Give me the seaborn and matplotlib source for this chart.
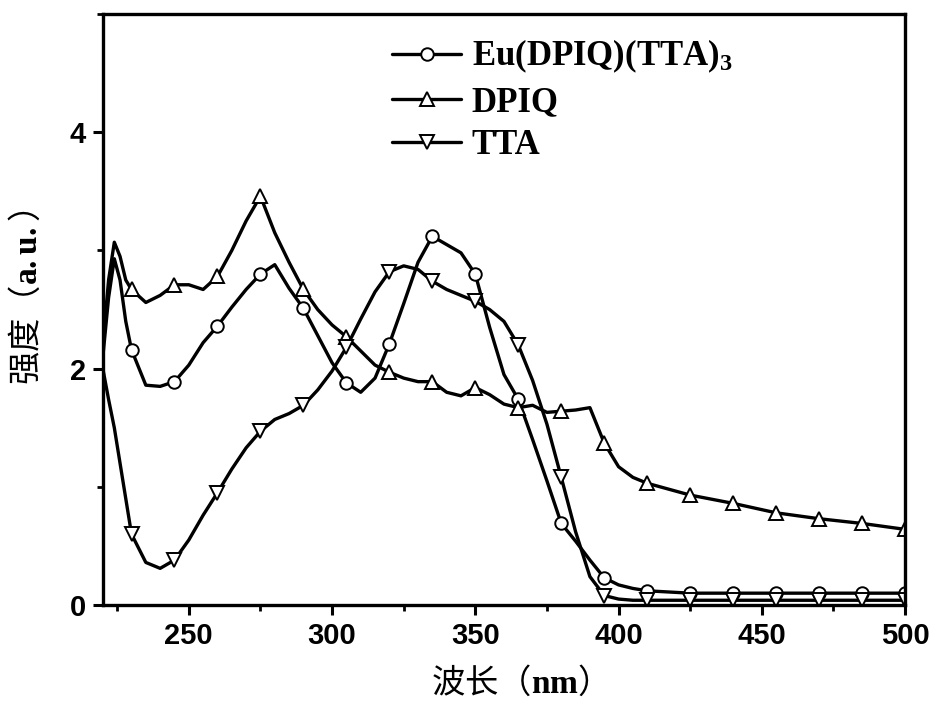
import numpy as np
import pandas as pd
import matplotlib
matplotlib.use("Agg")
import matplotlib.pyplot as plt
from matplotlib.lines import Line2D
from matplotlib.ticker import MultipleLocator
import seaborn as sns

# Wavelength grid (nm) and absorption intensities (a.u.)
wavelength = [220, 222, 224, 226, 228, 230, 235, 240, 245, 250, 255, 260, 265, 270,
              275, 280, 285, 290, 295, 300, 305, 310, 315, 320, 325, 330, 335, 340,
              345, 350, 355, 360, 365, 370, 375, 380, 385, 390, 395, 400, 405, 410,
              425, 440, 455, 470, 485, 500]

eu_complex = [2.10, 2.60, 2.93, 2.75, 2.40, 2.16, 1.86, 1.85, 1.89, 2.03, 2.22, 2.36,
              2.52, 2.67, 2.80, 2.88, 2.68, 2.51, 2.28, 2.05, 1.88, 1.80, 1.92, 2.21,
              2.55, 2.90, 3.12, 3.05, 2.98, 2.80, 2.35, 1.95, 1.74, 1.40, 1.05, 0.69,
              0.54, 0.38, 0.23, 0.17, 0.14, 0.12, 0.10, 0.10, 0.10, 0.10, 0.10, 0.10]

dpiq = [2.20, 2.75, 3.07, 2.95, 2.75, 2.67, 2.56, 2.62, 2.71, 2.71, 2.67, 2.78,
        3.00, 3.25, 3.46, 3.15, 2.90, 2.67, 2.50, 2.37, 2.27, 2.15, 2.03, 1.97,
        1.92, 1.89, 1.89, 1.80, 1.77, 1.84, 1.78, 1.70, 1.67, 1.69, 1.63, 1.64,
        1.65, 1.67, 1.37, 1.17, 1.08, 1.03, 0.93, 0.86, 0.78, 0.73, 0.69, 0.64]

tta = [2.00, 1.74, 1.50, 1.20, 0.90, 0.60, 0.36, 0.31, 0.38, 0.55, 0.76, 0.95,
       1.15, 1.33, 1.47, 1.57, 1.62, 1.69, 1.82, 1.98, 2.18, 2.42, 2.65, 2.82,
       2.87, 2.84, 2.74, 2.67, 2.62, 2.57, 2.50, 2.40, 2.20, 1.90, 1.53, 1.08,
       0.62, 0.24, 0.08, 0.05, 0.04, 0.04, 0.04, 0.04, 0.04, 0.04, 0.04, 0.04]

series_names = ["Eu(DPIQ)(TTA)$_3$", "DPIQ", "TTA"]
series_values = [eu_complex, dpiq, tta]
series_markers = ["o", "^", "v"]
series_msize = [9, 10.5, 10.5]

# Symbols sit every 15 nm starting at 230 nm
symbol_wl = list(range(230, 501, 15))
symbol_idx = [wavelength.index(w) for w in symbol_wl]

sns.set_theme(style="ticks")
plt.rcParams.update({
    "font.family": ["Liberation Sans"],
    "font.weight": "bold",
    "text.color": "black",
    "axes.labelcolor": "black",
    "axes.edgecolor": "black",
    "xtick.color": "black",
    "ytick.color": "black",
    "mathtext.fontset": "custom",
    "mathtext.rm": "Liberation Serif:bold",
    "mathtext.it": "Liberation Serif:bold",
    "mathtext.bf": "Liberation Serif:bold",
    "axes.linewidth": 2.2,
    "xtick.major.width": 2.2, "ytick.major.width": 2.2,
    "xtick.minor.width": 2.0, "ytick.minor.width": 2.0,
    "xtick.major.size": 7, "ytick.major.size": 7,
    "xtick.minor.size": 4, "ytick.minor.size": 4,
})

fig = plt.figure(figsize=(9.35, 7.08), dpi=100)
ax = fig.add_axes([0.110, 0.1455, 0.858, 0.8345])

frames = []
for name, vals in zip(series_names, series_values):
    frames.append(pd.DataFrame({"wavelength": wavelength, "intensity": vals, "sample": name}))
df = pd.concat(frames, ignore_index=True)

handles = []
for name, mk, ms in zip(series_names, series_markers, series_msize):
    sub = df[df["sample"] == name]
    sns.lineplot(data=sub, x="wavelength", y="intensity", ax=ax, color="black",
                 linewidth=2.4, marker=mk, markersize=ms, markerfacecolor="white",
                 markeredgecolor="black", markeredgewidth=1.4,
                 markevery=symbol_idx, sort=False, estimator=None, legend=False)
    handles.append(Line2D([], [], color="black", linewidth=2.4, marker=mk,
                          markersize=ms, markerfacecolor="white",
                          markeredgecolor="black", markeredgewidth=1.4))

ax.set_xlim(220, 500)
ax.set_ylim(0, 5)
ax.xaxis.set_major_locator(MultipleLocator(50))
ax.xaxis.set_minor_locator(MultipleLocator(25))
ax.yaxis.set_major_locator(MultipleLocator(2))
ax.yaxis.set_minor_locator(MultipleLocator(1))
ax.tick_params(axis="both", which="both", direction="out", top=False, right=False,
               colors="black")
ax.tick_params(axis="both", which="major", labelsize=21, pad=5)
for lab in ax.get_xticklabels() + ax.get_yticklabels():
    lab.set_fontweight("bold")
for side in ["top", "right", "left", "bottom"]:
    ax.spines[side].set_visible(True)
    ax.spines[side].set_linewidth(2.4)
    ax.spines[side].set_color("black")

label_family = ["Noto Sans CJK SC", "Liberation Serif"]
ax.set_xlabel(r"波长（$\mathbf{nm}$）", fontsize=24, fontweight="normal", color="black",
              family=label_family)
ax.set_ylabel(r"强度（$\mathbf{a.u.}$）", fontsize=24, fontweight="normal", color="black",
              family=label_family)
ax.xaxis.set_label_coords(0.508, -0.103)
ax.yaxis.set_label_coords(-0.072, 0.52)

leg = ax.legend(handles, series_names, loc="upper left",
                bbox_to_anchor=(392 / 935, 1 - 38 / 708), bbox_transform=fig.transFigure,
                frameon=False, borderpad=0, borderaxespad=0, handlelength=2.0,
                handletextpad=0.3, labelspacing=0.3,
                prop={"family": "Liberation Serif", "weight": "bold", "size": 25})

fig.savefig("out.png", dpi=100)
